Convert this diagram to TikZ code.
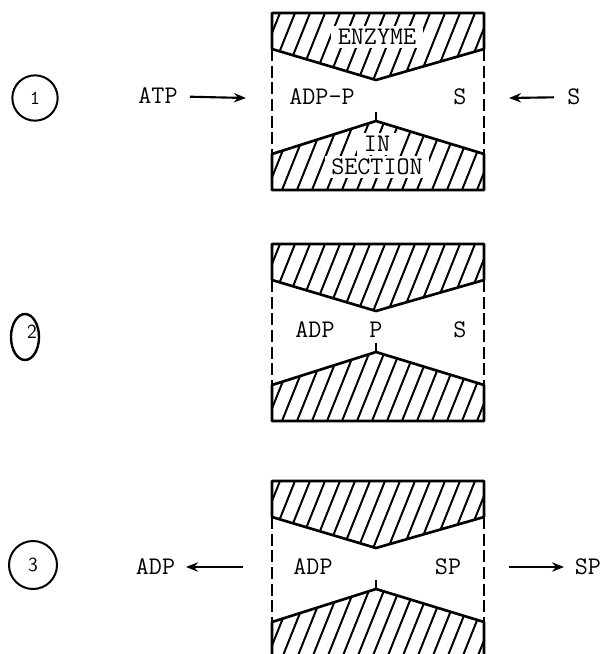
\documentclass[tikz,border=0pt]{standalone}
\usepackage{fontspec}
\usetikzlibrary{arrows.meta}
\tikzset{
  lbl/.style={font=\ttfamily\fontsize{19}{22}\selectfont, inner sep=2pt},
  holelbl/.style={lbl, fill=white, inner xsep=5pt, inner ysep=2.5pt},
  outline/.style={line width=2pt, line join=round},
  hatchline/.style={line width=1.5pt},
  wall/.style={line width=1.2pt, dash pattern=on 9pt off 3.5pt},
  flow/.style={-{Stealth[length=9pt,width=7pt]}, line width=1.6pt},
  stepno/.style={circle, draw, line width=1.5pt, minimum size=34pt, inner sep=0pt,
    font=\sffamily\fontsize{15}{17}\selectfont},
}
\begin{document}
\begin{tikzpicture}[x=0.75pt,y=-0.75pt]
  \clip (0,0) rectangle (602,654);
  % Enzyme halves, one pair per step
  \foreach \t in {13,244,481} {
    % upper half
    \begin{scope}
      \clip (272,\t) -- (484,\t) -- (484,\t+36) -- (376,\t+67) -- (272,\t+36) -- cycle;
      \foreach \h in {0,...,16} \draw[hatchline] (250+\h*15,\t+75) -- ++(32,-80);
    \end{scope}
    \draw[outline] (272,\t) -- (484,\t) -- (484,\t+36) -- (376,\t+67) -- (272,\t+36) -- cycle;
    % lower half
    \begin{scope}
      \clip (272,\t+141) -- (376,\t+108) -- (484,\t+141) -- (484,\t+177) -- (272,\t+177) -- cycle;
      \foreach \h in {0,...,16} \draw[hatchline] (250+\h*15,\t+182) -- ++(32,-80);
    \end{scope}
    \draw[outline] (272,\t+141) -- (376,\t+108) -- (484,\t+141) -- (484,\t+177) -- (272,\t+177) -- cycle;
    \draw[line width=1pt] (376,\t+99) -- (376,\t+108);
    % membrane walls
    \draw[wall] (272,\t+36) -- (272,\t+141);
    \draw[wall] (484,\t+36) -- (484,\t+141);
  }
  % Step 1
  \node[stepno, font=\ttfamily\fontsize{15}{17}\selectfont] (step1) at (35,98) {1};
  \node[holelbl] (enzyme) at (377,37) {ENZYME};
  \node[holelbl] (section) at (377,167) {SECTION};
  \node[holelbl] (insec) at (377,144) {IN};
  \node[lbl] (adpp) at (322,97) {ADP-P};
  \node[lbl] (s1) at (460,97) {S};
  \node[lbl] (atp) at (158,96) {ATP};
  \node[lbl] (sin) at (574,97) {S};
  \coordinate (atpend) at (246,98);
  \coordinate (sinend) at (509,98);
  \draw[flow, shorten <=7pt] (atp) -- (atpend);
  \draw[flow, shorten <=8pt] (sin) -- (sinend);
  % Step 2
  \draw[line width=1.8pt] (25,337) ellipse [x radius=14, y radius=23];
  \node[font=\sffamily\fontsize{15}{17}\selectfont, inner sep=0pt] (step2) at (32,332) {2};
  \node[lbl] (adp2) at (315,330) {ADP};
  \node[lbl] (p2) at (376,330) {P};
  \node[lbl] (s2) at (460,330) {S};
  % Step 3
  \node[stepno, minimum size=36pt] (step3) at (33,565) {3};
  \node[lbl] (adp3) at (313,567) {ADP};
  \node[lbl] (sp3) at (448,567) {SP};
  \node[lbl, anchor=west] (adpout) at (133,567) {ADP};
  \node[lbl, anchor=west] (spout) at (572,567) {SP};
  \coordinate (adpexit) at (243,567);
  \coordinate (spexit) at (509,567);
  \draw[flow, shorten >=6pt] (adpexit) -- (adpout);
  \draw[flow, shorten >=6pt] (spexit) -- (spout);
\end{tikzpicture}
\end{document}
